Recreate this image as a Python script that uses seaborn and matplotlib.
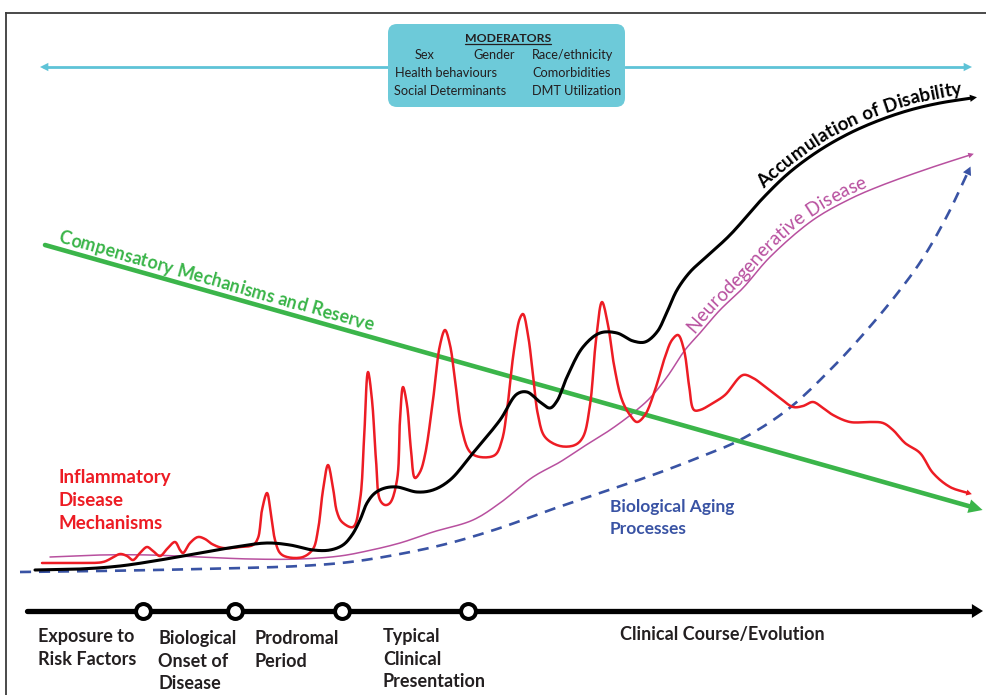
import numpy as np
import matplotlib
matplotlib.use("Agg")
import matplotlib.pyplot as plt
import seaborn as sns
from matplotlib.patches import FancyBboxPatch
from matplotlib.font_manager import FontProperties, findfont, get_font

# ---------------- data (x = time, y = level; screen-down units) -------------
disability_x = [35, 80, 120, 160, 200, 235, 267, 290, 313, 330, 343, 352, 360, 367, 375, 385, 397, 417, 433,
                450, 473, 500, 517, 527, 540, 550, 557, 567, 583, 600, 617, 633, 645, 657, 667, 677, 690,
                705, 730, 763, 790, 820, 850, 880, 910, 940, 972]
disability_y = [570, 569, 566, 560, 553, 547, 543, 545, 550, 550, 545, 535, 520, 503, 493, 488, 487, 492, 490,
                480, 453, 420, 394, 392, 402, 408, 401, 377, 347, 333, 333, 341, 342, 332, 312, 290, 272,
                258, 235, 198, 172, 150, 133, 120, 110, 103, 98]

neuro_x = [50, 100, 150, 200, 250, 300, 340, 367, 400, 433, 473, 500, 533, 560, 583, 610, 633, 650, 667, 685,
           700, 720, 743, 770, 813, 850, 880, 930, 970]
neuro_y = [557, 555, 555, 557, 559, 559, 556, 551, 543, 532, 520, 503, 477, 462, 447, 430, 413, 398, 377, 350,
           333, 310, 288, 257, 220, 199, 186, 168, 155]

aging_x = [20, 100, 200, 300, 350, 400, 450, 500, 550, 600, 650, 700, 740, 787, 833, 867, 900, 923, 947, 968]
aging_y = [572, 571, 569, 566, 562, 554, 543, 528, 510, 493, 476, 457, 440, 410, 367, 330, 290, 258, 216, 172]

inflam_x = [42, 80, 103, 112, 120, 127, 133, 140, 147, 153, 160, 167, 175, 180, 183, 190, 198, 205, 212, 223,
            240, 253, 258, 262, 267, 271, 275, 280, 287, 303, 313, 318, 323, 328, 333, 337, 342, 353,
            360, 364, 368, 372, 376, 380, 385, 390, 397, 400, 403, 407, 411, 415, 420, 425,
            433, 440, 445, 450, 455, 462, 470, 480, 495, 502, 507, 514, 520, 523, 528, 533, 538, 545,
            560, 575, 583, 590, 596, 602, 608, 614, 622, 630, 637, 645, 655, 665, 672, 678, 684, 689,
            694, 700, 713, 725, 743, 753, 763, 780, 793, 803, 813, 823, 833, 850, 870, 883, 893, 905,
            920, 933, 950, 968]
inflam_y = [563, 563, 562, 558, 554, 556, 560, 553, 547, 551, 556, 549, 542, 550, 553, 543, 537, 539, 544, 548,
            547, 545, 538, 510, 493, 515, 540, 553, 557, 557, 549, 530, 490, 465, 488, 512, 522, 527,
            500, 440, 372, 400, 460, 500, 505, 503, 480, 420, 387, 405, 450, 478, 472, 455,
            400, 345, 330, 345, 380, 430, 452, 457, 455, 440, 410, 350, 318, 314, 335, 375, 415, 437,
            446, 445, 437, 405, 340, 302, 325, 365, 400, 415, 422, 415, 390, 357, 340, 335, 350, 385,
            410, 410, 403, 395, 375, 378, 385, 398, 407, 406, 402, 408, 415, 422, 422, 423, 430, 443,
            453, 473, 487, 493]

reserve_x = [45, 972]
reserve_y = [245, 507]

moderator_arrow_y = 67
moderators_row1 = ["Sex", "Gender", "Race/ethnicity"]
moderators_row2 = ["Health behaviours", "Comorbidities"]
moderators_row3 = ["Social Determinants", "DMT Utilization"]

timeline_x = [27, 972]
timeline_y = 611
milestone_x = [143, 235, 342, 468]
stage_labels = ["Exposure to\nRisk Factors", "Biological\nOnset of\nDisease", "Prodromal\nPeriod",
                "Typical\nClinical\nPresentation", "Clinical Course/Evolution"]

# ---------------- style ----------------
RED = "#ed1c24"
MAG = "#b8509f"
BLUE = "#3953a4"
GREEN = "#3bb54a"
CYAN_BOX = "#6dcad9"
CYAN = "#5ec3d7"
TXT = "#231f20"

sns.set_theme(style="white")
plt.rcParams['font.family'] = ['Lato', 'DejaVu Sans']

W, H = 986, 695
fig = plt.figure(figsize=(W / 100, H / 100), dpi=100)
X0, X1, Y0, Y1 = 6, 1000, 13, 710
ax = fig.add_axes([X0 / W, (H - Y1) / H, (X1 - X0) / W, (Y1 - Y0) / H])


def smooth(xs, ys, n=10, alpha=0.5):
    P = np.column_stack([xs, ys]).astype(float)
    P = np.vstack([2 * P[0] - P[1], P, 2 * P[-1] - P[-2]])
    out = []
    for i in range(1, len(P) - 2):
        p0, p1, p2, p3 = P[i - 1], P[i], P[i + 1], P[i + 2]
        t0 = 0.0
        t1 = t0 + max(np.linalg.norm(p1 - p0), 1e-6) ** alpha
        t2 = t1 + max(np.linalg.norm(p2 - p1), 1e-6) ** alpha
        t3 = t2 + max(np.linalg.norm(p3 - p2), 1e-6) ** alpha
        t = np.linspace(t1, t2, n, endpoint=False)[:, None]
        a1 = (t1 - t) / (t1 - t0) * p0 + (t - t0) / (t1 - t0) * p1
        a2 = (t2 - t) / (t2 - t1) * p1 + (t - t1) / (t2 - t1) * p2
        a3 = (t3 - t) / (t3 - t2) * p2 + (t - t2) / (t3 - t2) * p3
        b1 = (t2 - t) / (t2 - t0) * a1 + (t - t0) / (t2 - t0) * a2
        b2 = (t3 - t) / (t3 - t1) * a2 + (t - t1) / (t3 - t1) * a3
        c = (t2 - t) / (t2 - t1) * b1 + (t - t1) / (t2 - t1) * b2
        out.append(c)
    out.append(P[-2][None, :])
    out = np.vstack(out)
    return out[:, 0], out[:, 1]


def head(x_tail, y_tail, x_tip, y_tip, color, hl, hw):
    ax.annotate("", xy=(x_tip, y_tip), xytext=(x_tail, y_tail),
                arrowprops=dict(arrowstyle=f"-|>,head_length={hl},head_width={hw}",
                                color=color, lw=0, shrinkA=0, shrinkB=0, mutation_scale=1),
                zorder=6)


def draw_curve(xs, ys, color, lw, hl, hw, ext, dashes=None, zorder=3):
    sx, sy = smooth(xs, ys)
    sns.lineplot(x=sx, y=sy, ax=ax, sort=False, estimator=None, color=color,
                 linewidth=lw, zorder=zorder)
    line = ax.lines[-1]
    line.set_solid_capstyle("round")
    if dashes is not None:
        line.set_dashes(dashes)
        line.set_dash_capstyle("butt")
    dx, dy = sx[-1] - sx[-4], sy[-1] - sy[-4]
    nrm = np.hypot(dx, dy)
    dx, dy = dx / nrm, dy / nrm
    head(sx[-1] - dx * 2, sy[-1] - dy * 2, sx[-1] + dx * ext, sy[-1] + dy * ext, color, hl, hw)
    return sx, sy


def text_on_curve(sx, sy, text, x_start, offset, size, color, weight="normal", tang_win=None):
    fp = FontProperties(family=["Lato"], size=size, weight=weight)
    font = get_font(findfont(fp))
    font.set_size(size, 72)
    d = np.hypot(np.diff(sx), np.diff(sy))
    s = np.concatenate([[0], np.cumsum(d)])
    pos = np.interp(x_start, sx, s)
    for ch in text:
        adv = font.load_char(ord(ch)).linearHoriAdvance / 65536 * 100 / 72
        sc = pos + adv / 2
        x = np.interp(sc, s, sx)
        y = np.interp(sc, s, sy)
        w = tang_win or max(adv, 6)
        xa, ya = np.interp(sc - w, s, sx), np.interp(sc - w, s, sy)
        xb, yb = np.interp(sc + w, s, sx), np.interp(sc + w, s, sy)
        tx, ty = xb - xa, yb - ya
        n = np.hypot(tx, ty)
        tx, ty = tx / n, ty / n
        nx, ny = ty, -tx
        ang = np.degrees(np.arctan2(-ty, tx))
        if ch != " ":
            ax.text(x + nx * offset, y + ny * offset, ch, rotation=ang, rotation_mode="anchor",
                    ha="center", va="baseline", color=color,
                    fontproperties=fp, zorder=7)
        pos += adv


# ---------------- curves ----------------
aging_sx, aging_sy = draw_curve(aging_x, aging_y, BLUE, 1.9, 6, 3.2, 6, dashes=[4.2, 3.0], zorder=2)
neuro_sx, neuro_sy = draw_curve(neuro_x, neuro_y, MAG, 1.1, 4, 2.0, 4, zorder=3)
inf_sx, inf_sy = draw_curve(inflam_x, inflam_y, RED, 1.8, 4, 2.2, 4, zorder=4)
dis_sx, dis_sy = draw_curve(disability_x, disability_y, "black", 2.2, 5, 2.6, 5, zorder=5)

# compensatory reserve (straight arrow)
sns.lineplot(x=reserve_x, y=reserve_y, ax=ax, sort=False, estimator=None, color=GREEN, linewidth=3.3, zorder=3)
gdx, gdy = reserve_x[1] - reserve_x[0], reserve_y[1] - reserve_y[0]
gn = np.hypot(gdx, gdy)
head(reserve_x[1] - gdx / gn * 3, reserve_y[1] - gdy / gn * 3,
     reserve_x[1] + gdx / gn * 11, reserve_y[1] + gdy / gn * 11, GREEN, 10, 5.0)
gsx = np.linspace(reserve_x[0], reserve_x[1], 200)
gsy = np.interp(gsx, reserve_x, reserve_y)

# curve labels
text_on_curve(dis_sx, dis_sy, "Accumulation of Disability", 768, 5, 13.5, "black", weight="bold", tang_win=14)
text_on_curve(neuro_sx, neuro_sy, "Neurodegenerative Disease", 697, 4, 13.5, MAG, weight="normal", tang_win=14)
text_on_curve(gsx, gsy, "Compensatory Mechanisms and Reserve", 56, 6, 13, GREEN, weight="bold")

ax.text(58, 469, "Inflammatory\nDisease\nMechanisms", color=RED, fontsize=13.5, fontweight="bold",
        ha="left", va="top", linespacing=1.42, zorder=7)
ax.text(610, 499, "Biological Aging\nProcesses", color=BLUE, fontsize=12.5, fontweight="bold",
        ha="left", va="top", linespacing=1.45, zorder=7)

# ---------------- moderators box ----------------
box = FancyBboxPatch((388, 24), 237, 83, boxstyle="round,pad=0,rounding_size=9",
                     fc=CYAN_BOX, ec="none", zorder=5)
ax.add_patch(box)
sns.lineplot(x=[44, 388], y=[moderator_arrow_y] * 2, ax=ax, color=CYAN, linewidth=2.0, zorder=4)
sns.lineplot(x=[625, 966], y=[moderator_arrow_y] * 2, ax=ax, color=CYAN, linewidth=2.0, zorder=4)
head(50, moderator_arrow_y, 40, moderator_arrow_y, CYAN, 6, 3.0)
head(960, moderator_arrow_y, 972, moderator_arrow_y, CYAN, 6, 3.0)

mod_title = ax.text(508, 42, "MODERATORS", ha="center", va="baseline", fontsize=8.8,
                    fontweight="bold", color=TXT, zorder=7)
mfs = 9.2
for lbl, x in zip(moderators_row1, [415, 473, 532]):
    ax.text(x, 59, lbl, ha="left", va="baseline", fontsize=mfs, color=TXT, zorder=7)
for lbl, x in zip(moderators_row2, [395, 532]):
    ax.text(x, 77, lbl, ha="left", va="baseline", fontsize=mfs, color=TXT, zorder=7)
for lbl, x in zip(moderators_row3, [394, 532]):
    ax.text(x, 95, lbl, ha="left", va="baseline", fontsize=mfs, color=TXT, zorder=7)

# ---------------- timeline ----------------
sns.lineplot(x=timeline_x, y=[timeline_y] * 2, ax=ax, color="black", linewidth=3.8, zorder=5)
head(timeline_x[1] - 3, timeline_y, timeline_x[1] + 11, timeline_y, "black", 8, 5.0)
ax.scatter(milestone_x, [timeline_y] * len(milestone_x), s=115, marker="o", facecolor="white",
           edgecolor="black", linewidth=2.9, zorder=6)
for lbl, x, y in zip(stage_labels, [38, 158, 255, 383, 620], [628, 630, 630, 628, 626]):
    ax.text(x, y, lbl, ha="left", va="top", fontsize=13, fontweight="bold", color=TXT,
            linespacing=1.4, zorder=7)

# ---------------- frame ----------------
ax.set_xlim(X0, X1)
ax.set_ylim(Y1, Y0)
ax.set_xticks([])
ax.set_yticks([])
ax.set_xlabel("")
ax.set_ylabel("")
for s in ["right", "bottom"]:
    ax.spines[s].set_visible(False)
for s in ["left", "top"]:
    ax.spines[s].set_visible(True)
    ax.spines[s].set_color("#3c3c3c")
    ax.spines[s].set_linewidth(1.3)
ax.set_facecolor("white")
fig.patch.set_facecolor("white")

# underline for MODERATORS title
fig.canvas.draw()
bb = mod_title.get_window_extent()
inv = ax.transData.inverted()
(ux0, _), (ux1, _) = inv.transform([(bb.x0, bb.y0), (bb.x1, bb.y0)])
ax.plot([ux0, ux1], [44.5, 44.5], color=TXT, lw=0.9, zorder=7)

fig.savefig("out.png", dpi=100, facecolor="white")
